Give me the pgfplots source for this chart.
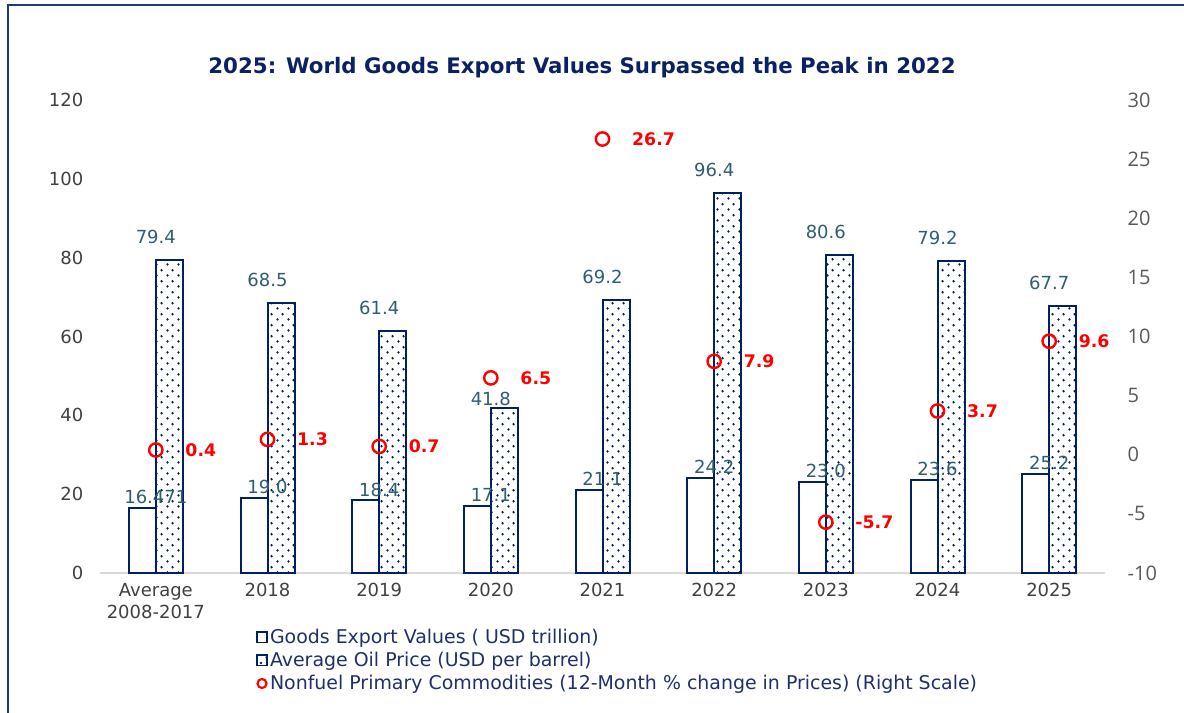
\documentclass[border=0pt]{standalone}
\usepackage{pgfplots}
\pgfplotsset{compat=1.18}
\usepackage{fontspec}
\setmainfont{DejaVu Sans}
\newfontfamily\opensans{Open Sans}
\usetikzlibrary{patterns.meta}
\definecolor{navy}{HTML}{002060}
\definecolor{legnavy}{HTML}{1F3068}
\definecolor{titlenavy}{HTML}{0A2263}
\definecolor{labelteal}{HTML}{2E5E70}
\definecolor{tickgray}{HTML}{404040}
\definecolor{rgray}{HTML}{595959}
\definecolor{axisgray}{HTML}{D9D9D9}
\definecolor{framecol}{HTML}{1F3C7A}
\definecolor{myred}{HTML}{FF0000}
\pgfdeclarepattern{
  name=bardots,
  type=uncolored,
  bottom left={\pgfpoint{0pt}{0pt}},
  top right={\pgfpoint{8.25pt}{8pt}},
  tile size={\pgfpoint{8.25pt}{8pt}},
  code={
    \pgfpathcircle{\pgfpoint{2.06pt}{2pt}}{1.05pt}
    \pgfpathcircle{\pgfpoint{6.19pt}{6pt}}{1.05pt}
    \pgfusepath{fill}
  }
}
\pgfplotstableread{
x y lab sh
0 79.4 79.4 8
1 68.5 68.5 8
2 61.4 61.4 8
3 41.8 41.8 -2
4 69.2 69.2 8
5 96.4 96.4 8
6 80.6 80.6 8
7 79.2 79.2 8
8 67.7 67.7 8
}\oiltable
\begin{document}
\begin{tikzpicture}
\useasboundingbox (0,0) rectangle (888pt,534.75pt);
\draw[framecol, line width=1.5pt] (6pt,0pt) -- (6pt,531pt) -- (888pt,531pt);
\begin{axis}[
  at={(75pt,105pt)}, anchor=south west,
  scale only axis, width=753.75pt, height=354.75pt,
  xmin=-0.5, xmax=8.5, ymin=0, ymax=120,
  ytick={0,20,...,120},
  xtick={0,...,8},
  xticklabels={{Average\\2008-2017},2018,2019,2020,2021,2022,2023,2024,2025},
  axis x line*=bottom, axis y line*=left,
  x axis line style={draw=axisgray, line width=1pt, -},
  y axis line style={draw=none},
  major tick length=0pt,
  /pgf/number format/assume math mode=true,
  xticklabel style={align=center, font=\fontsize{13.5}{16.5}\selectfont, text=tickgray, yshift=-4pt},
  yticklabel style={font=\fontsize{13.5}{16}\selectfont, text=tickgray, xshift=-9pt},
  clip=false,
]
\addplot[ybar, bar width=20.25pt, bar shift=-10.125pt, draw=navy, fill=white, line width=1.5pt,
  point meta=explicit symbolic, nodes near coords,
  every node near coord/.append style={font=\fontsize{13.5}{16}\selectfont, text=labelteal, yshift=-1pt}]
  coordinates {(0,16.471)[16.471] (1,19.0)[19.0] (2,18.4)[18.4] (3,17.1)[17.1] (4,21.1)[21.1] (5,24.2)[24.2] (6,23.0)[23.0] (7,23.6)[23.6] (8,25.2)[25.2]};
\addplot[ybar, bar width=20.25pt, bar shift=10.125pt, draw=navy, pattern=bardots, pattern color=navy, line width=1.5pt,
  point meta=explicit symbolic, nodes near coords,
  visualization depends on={\thisrow{sh} \as \labsh},
  every node near coord/.append style={font=\fontsize{13.5}{16}\selectfont, text=labelteal, yshift=\labsh pt}]
  table[x=x, y=y, meta=lab] {\oiltable};
\end{axis}
\begin{axis}[
  at={(75pt,105pt)}, anchor=south west,
  scale only axis, width=753.75pt, height=354.75pt,
  xmin=-0.5, xmax=8.5, ymin=-10, ymax=30,
  ytick={-10,-5,...,30},
  axis y line*=right, axis x line=none,
  y axis line style={draw=none},
  major tick length=0pt,
  /pgf/number format/assume math mode=true,
  yticklabel style={font=\opensans\fontsize{15}{18}\selectfont, text=rgray, xshift=13.5pt},
  clip=false,
  legend style={at={(axis description cs:0.155,-0.114)}, anchor=north west, draw=none, fill=none,
    font=\fontsize{14.2}{16}\selectfont, text=legnavy, row sep=2pt, inner sep=0pt, nodes={inner sep=1.5pt}},
  legend cell align=left,
]
\addlegendimage{legend image code/.code={\draw[draw=navy, fill=white, line width=1.4pt] (0pt,-3.8pt) rectangle (7.6pt,3.8pt);}}
\addlegendentry{Goods Export Values ( USD trillion)}
\addlegendimage{legend image code/.code={\draw[draw=navy, pattern=bardots, pattern color=navy, line width=1.4pt] (0pt,-3.8pt) rectangle (7.6pt,3.8pt);}}
\addlegendentry{Average Oil Price (USD per barrel)}
\addplot[only marks, mark=o, mark size=5pt, color=myred, line width=1.8pt,
  point meta=explicit symbolic, nodes near coords,
  every node near coord/.append style={anchor=west, xshift=18pt, font=\bfseries\fontsize{13}{16}\selectfont, text=myred},
  legend image code/.code={\draw[myred, line width=1.6pt] (3.8pt,0pt) circle (3.4pt);}]
  coordinates {(0,0.4)[0.4] (1,1.3)[1.3] (2,0.7)[0.7] (3,6.5)[6.5] (4,26.7)[26.7] (5,7.9)[7.9] (6,-5.7)[-5.7] (7,3.7)[3.7] (8,9.6)[9.6]};
\addlegendentry{Nonfuel Primary Commodities (12-Month \% change in Prices) (Right Scale)}
\end{axis}
\node[font=\bfseries\fontsize{16}{19}\selectfont, text=titlenavy] at (436.5pt,483.75pt) {2025: World Goods Export Values Surpassed the Peak in 2022};
\end{tikzpicture}
\end{document}
